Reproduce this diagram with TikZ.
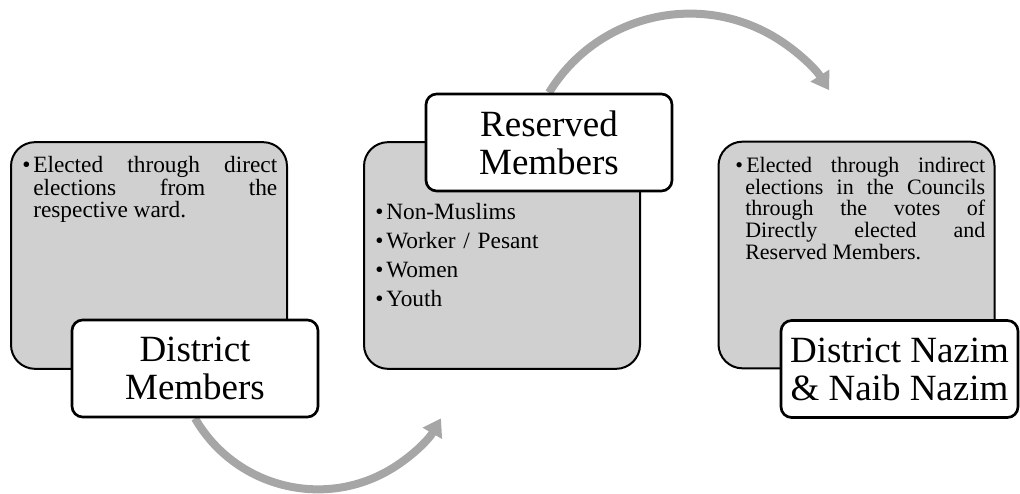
\documentclass[tikz,border=0pt]{standalone}
\usepackage{fontspec}
\setmainfont{Liberation Serif}
\usetikzlibrary{arrows.meta, backgrounds}

\definecolor{boxgray}{HTML}{D0D0D0}
\definecolor{arrowgray}{HTML}{A6A6A6}
\newcommand{\bul}{\makebox[8.25pt][l]{\textbullet}}
\newcommand{\nohyph}{\hyphenpenalty=10000\relax}

\begin{document}
\begin{tikzpicture}[x=0.75pt, y=0.75pt,
    % styles
    infobox/.style={draw=black, line width=1.5pt, fill=boxgray, rounded corners=18pt,
        minimum width=207pt, minimum height=170pt, inner sep=0pt},
    titlebox/.style={draw=black, line width=2pt, fill=white, rounded corners=8pt,
        minimum height=72.75pt, inner sep=0pt, align=center,
        font=\fontsize{27.75}{28.5}\selectfont},
    infotext/.style={anchor=north west, inner sep=0pt, text width=#1},
    cyclearrow/.style={draw=arrowgray, line width=6pt,
        -{Triangle[length=13pt, width=16pt]}}
]
\useasboundingbox (0,0) rectangle (1020,493);

% --- grey boxes ---
\node[infobox] (box1) at (149, 237.5) {};
\node[infobox] (box2) at (502, 237.5) {};
\node[infobox] (box3) at (856.5, 238) {};

% --- texts in the boxes ---
\node[infotext=191.25pt, align=justify, font=\fontsize{17.5}{17}\selectfont] (txt1) at (22, 337)
    {\nohyph\hangindent=8.25pt\hangafter=1\bul Elected through direct elections from the respective ward.\par};
\node[infotext=187.5pt, align=left, font=\fontsize{17.5}{17}\selectfont] (txt2) at (375, 290)
    {\bul Non-Muslims\\[4.75pt]\bul Worker / Pesant\\[4.75pt]\bul Women\\[4.75pt]\bul Youth};
\node[infotext=187.5pt, align=justify, font=\fontsize{16.5}{16.3}\selectfont] (txt3) at (735, 336)
    {\nohyph\hangindent=7.5pt\hangafter=1\bul Elected through indirect elections in the Councils through the votes of Directly elected and Reserved Members.\par};

% --- titles ---
\node[titlebox, minimum width=184.5pt] (lab1) at (195, 124.5) {District\\Members};
\node[titlebox, minimum width=184.5pt] (lab2) at (549, 350.5) {Reserved\\Members};
\node[titlebox, minimum width=177.75pt] (lab3) at (899.5, 124) {District Nazim\\\& Naib Nazim};

% --- curved arrows ---
\begin{scope}[on background layer]
    \draw[cyclearrow] (lab1.south) arc[start angle=210, end angle=330, radius=106.5pt];
    \draw[cyclearrow] (lab2.north) arc[start angle=148.6, end angle=32.4, radius=123.75pt];
\end{scope}

\end{tikzpicture}
\end{document}
